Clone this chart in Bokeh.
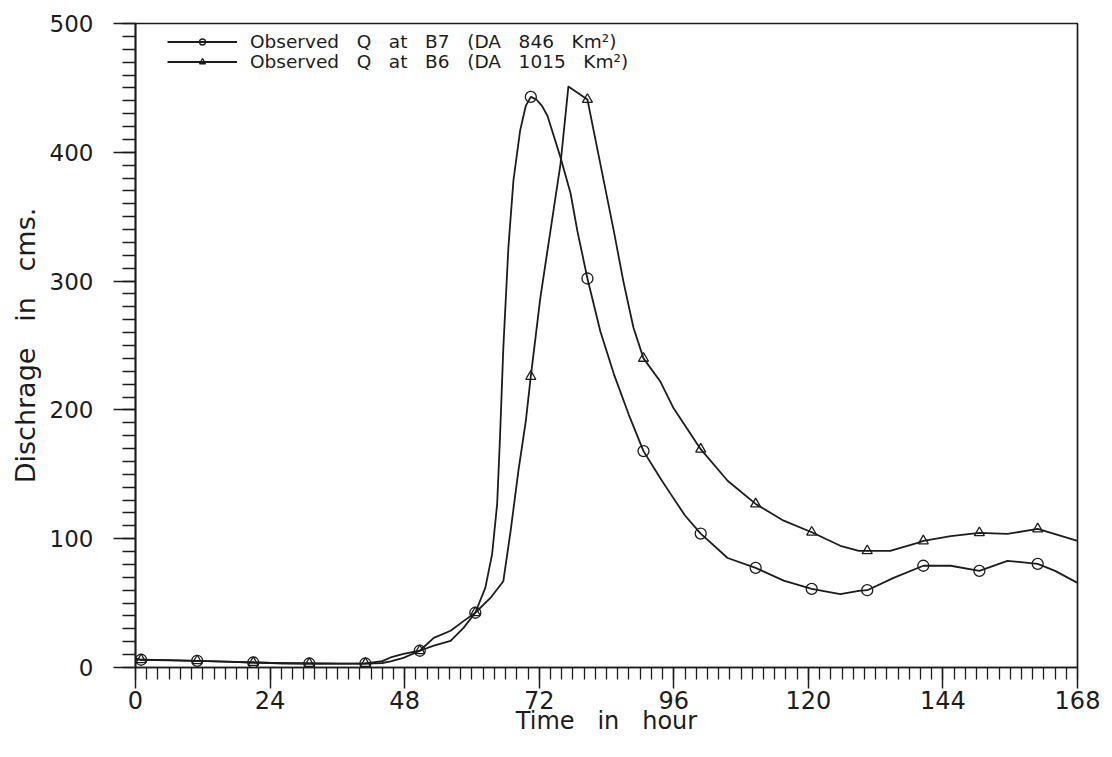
from bokeh.plotting import figure
from bokeh.models import Range1d, FixedTicker, Legend, LegendItem
from bokeh.embed import file_html
from bokeh.resources import INLINE

# ---- data ----
b7_hours = [0, 1, 6, 11, 16, 21, 26, 31, 36, 41, 44, 45.5, 47.8, 50.7, 53.2, 56.2, 58.5,
            60.6, 62.4, 63.6, 64.5, 65.0, 65.6, 66.5, 67.4, 68.6, 69.6, 70.5, 71.5, 72.5,
            73.5, 75.8, 77.6, 78.8, 80.6, 82.9, 85.3, 88.0, 90.6, 93.6, 95.4, 98.0, 100.8,
            105.6, 110.6, 115.6, 120.6, 125.7, 129.0, 130.5, 135.2, 140.5, 145.4, 150.5,
            155.5, 160.9, 164.0, 168]
b7_q = [7, 6, 5.5, 5.2, 4.5, 3.9, 3.3, 3.1, 3.0, 3.1, 5, 7.8, 10.6, 13, 23, 28.5, 36,
        42.5, 62, 88, 127, 178, 248, 326, 378, 417, 436, 443, 441, 436,
        428, 396, 368, 339, 302, 261, 228, 196, 168, 147, 135, 118, 104,
        85, 77.4, 67.4, 61, 57, 59.5, 60, 69.6, 79, 79, 75,
        82.8, 80.5, 75, 65.7]

b6_hours = [0, 1, 6, 11, 16, 21, 26, 31, 36, 41, 44, 45.5, 47.8, 50.7, 53.2, 56.2, 58.5,
            60.6, 63.3, 65.6, 66.9, 68.3, 69.6, 70.5, 72.2, 74.0, 75.8, 77.2, 80.6, 81.7,
            83.5, 85.3, 87.0, 88.8, 90.6, 93.6, 96.0, 100.8, 105.6, 110.6, 115.6, 120.6,
            125.7, 129.0, 130.5, 134.6, 139.5, 140.5, 145.4, 150.5, 155.5, 160.9, 168]
b6_q = [6.5, 6, 5.8, 5.2, 4.5, 3.9, 3.3, 3.1, 3.0, 3.1, 3.5, 4.7, 7.5, 13, 17, 20.7, 30.8,
        42.5, 54, 67, 106, 153, 191, 226, 287, 339, 391, 451, 441, 417,
        378, 339, 300, 264, 240, 222, 201, 169.5, 145, 127, 114, 105,
        94.5, 90.6, 90.6, 90.6, 96.8, 98.3, 102, 104.6, 103.7, 107.6, 98.3]

marker_hours = [1, 11, 21, 31, 41, 50.7, 60.6, 70.5, 80.6, 90.6, 100.8, 110.6, 120.6,
                130.5, 140.5, 150.5, 160.9]

x_major = [0, 24, 48, 72, 96, 120, 144, 168]
y_major = [0, 100, 200, 300, 400, 500]

G = "\u00a0\u00a0 "
label_b7 = G.join(["Observed", "Q", "at", "B7", "(DA", "846", "Km\u00b2)"])
label_b6 = G.join(["Observed", "Q", "at", "B6", "(DA", "1015", "Km\u00b2)"])

def pick(hours, q, wanted):
    d = dict(zip(hours, q))
    return list(wanted), [d[h] for h in wanted]

INK = "#1c1c1c"
FONT = "DejaVu Sans"
FH = 644

p = figure(frame_width=942, frame_height=FH, output_backend="svg", toolbar_location=None,
           x_range=Range1d(0, 168), y_range=Range1d(0, 500),
           min_border_left=135, min_border_right=27, min_border_top=23, min_border_bottom=82,
           background_fill_color="white", border_fill_color="white")
p.grid.visible = False
p.outline_line_color = INK
p.outline_line_width = 1.7

# lines
l7 = p.line(b7_hours, b7_q, line_color=INK, line_width=1.8, line_join="round")
l6 = p.line(b6_hours, b6_q, line_color=INK, line_width=1.8, line_join="round")
mx7, my7 = pick(b7_hours, b7_q, marker_hours)
mx6, my6 = pick(b6_hours, b6_q, marker_hours)
s7 = p.scatter(mx7, my7, marker="circle", size=11, fill_color="white", fill_alpha=0,
               line_color=INK, line_width=1.3)
s6 = p.scatter(mx6, my6, marker="triangle", size=10, fill_color="white", fill_alpha=0,
               line_color=INK, line_width=1.3)

# axes
for ax in (p.xaxis[0], p.yaxis[0]):
    ax.axis_line_color = INK
    ax.axis_line_width = 1.7
    ax.major_tick_line_color = INK
    ax.minor_tick_line_color = INK
    ax.major_tick_line_width = 1.5
    ax.minor_tick_line_width = 1.3
    ax.major_tick_in = 0
    ax.minor_tick_in = 0
    ax.major_label_text_font = FONT
    ax.major_label_text_color = INK
    ax.axis_label_text_font = FONT
    ax.axis_label_text_font_style = "normal"
    ax.axis_label_text_color = INK

p.xaxis.ticker = FixedTicker(ticks=x_major, minor_ticks=list(range(0, 169, 2)))
p.yaxis.ticker = FixedTicker(ticks=y_major, minor_ticks=list(range(0, 501, 10)))
p.xaxis.major_tick_out = 21
p.xaxis.minor_tick_out = 12
p.yaxis.major_tick_out = 22
p.yaxis.minor_tick_out = 13
p.xaxis.major_label_text_font_size = "24px"
p.yaxis.major_label_text_font_size = "23px"
p.xaxis.major_label_standoff = 2
p.yaxis.major_label_standoff = 20
p.xaxis.axis_label = "Time\u00a0\u00a0 in\u00a0\u00a0 hour"
p.yaxis.axis_label = "Dischrage\u00a0\u00a0 in\u00a0\u00a0 cms."
p.xaxis.axis_label_text_font_size = "24px"
p.yaxis.axis_label_text_font_size = "27px"
p.xaxis.axis_label_standoff = -5
p.yaxis.axis_label_standoff = 6

def make_legend(label, renderers, top_offset):
    return Legend(items=[LegendItem(label=label, renderers=renderers)],
                  location=(32, FH - top_offset), orientation="vertical",
                  glyph_width=70, glyph_height=15, label_height=15, spacing=0,
                  padding=0, margin=0, label_standoff=13,
                  label_text_font=FONT, label_text_font_size="18.5px",
                  label_text_color=INK, label_text_baseline="middle",
                  background_fill_alpha=0, border_line_alpha=0)

p.add_layout(make_legend(label_b7, [l7, s7], 29))
p.add_layout(make_legend(label_b6, [l6, s6], 49))

open("out.html", "w").write(file_html(p, INLINE))
